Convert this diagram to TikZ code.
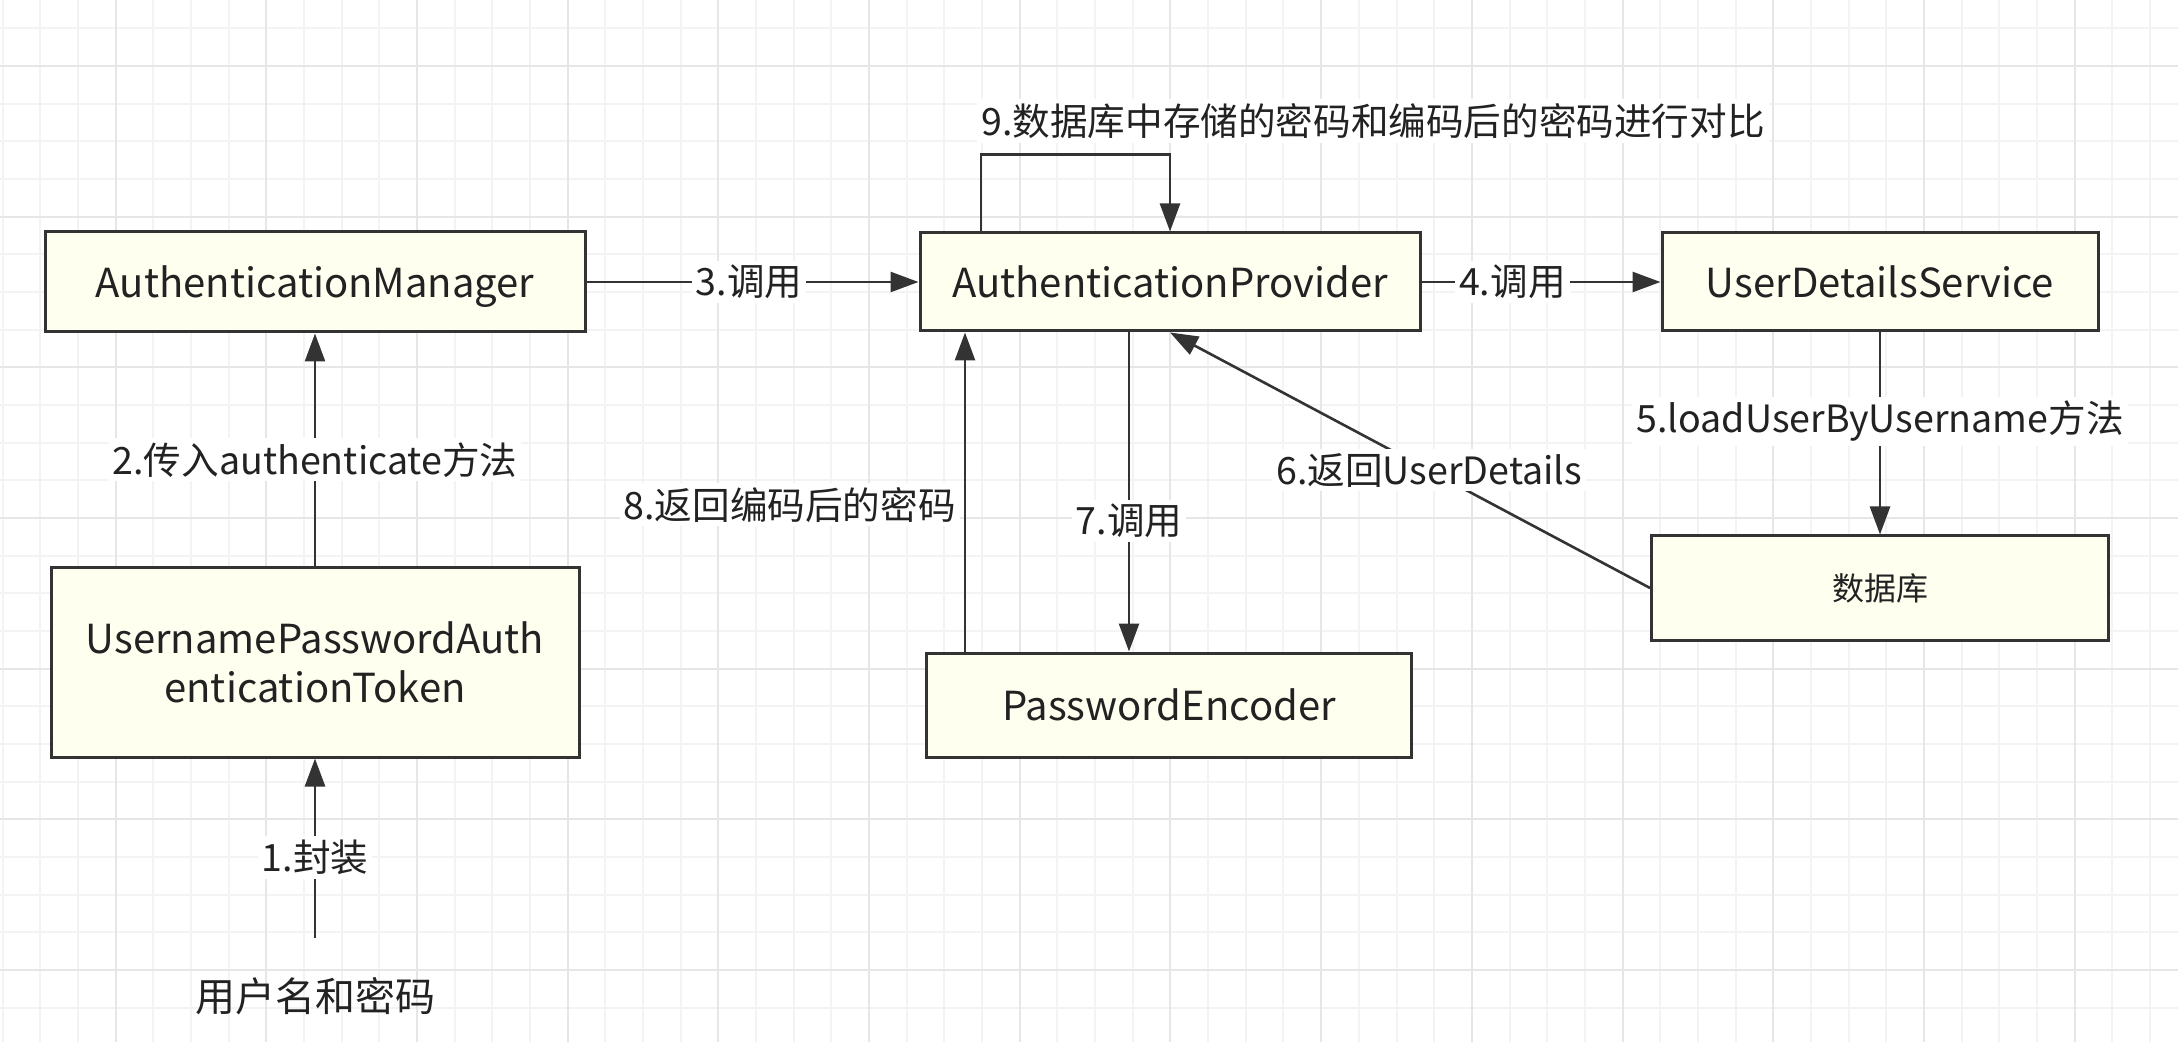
\documentclass[tikz,border=0pt]{standalone}
\usepackage{fontspec}
\setmainfont{Noto Sans CJK SC}
\usetikzlibrary{arrows.meta,calc}
\definecolor{boxfill}{HTML}{FFFFF0}
\definecolor{boxline}{HTML}{333333}
\definecolor{edgecol}{HTML}{333333}
\definecolor{txt}{HTML}{222222}
\definecolor{gridminor}{HTML}{F3F3F3}
\definecolor{gridmajor}{HTML}{E6E6E6}
\tikzset{
  box/.style={draw=boxline, fill=boxfill, line width=1.5pt, inner sep=0pt, align=center,
    text=txt, font=\fontsize{20}{24.5}\selectfont},
  onebox/.style={box, text depth=0pt},
  edge/.style={draw=edgecol, line width=1.3pt, -{Triangle[length=14pt,width=10pt]}},
  lab/.style={fill=white, inner sep=2pt, text=txt, font=\fontsize{18.8}{22}\selectfont},
  freetext/.style={inner sep=2pt, text=txt, font=\fontsize{20}{24}\selectfont},
}
\begin{document}
\begin{tikzpicture}[x=0.5pt,y=-0.5pt]
\fill[white] (0,0) rectangle (2178,1042);
\useasboundingbox (0,0) rectangle (2178,1042);
% grid
\foreach \i in {0,...,57} {
  \pgfmathsetmacro\gx{2.7+37.67*\i}
  \draw[gridminor, line width=1pt] (\gx,0) -- (\gx,1042);
}
\foreach \i in {0,...,27} {
  \pgfmathsetmacro\gy{28.3+37.67*\i}
  \draw[gridminor, line width=1pt] (0,\gy) -- (2178,\gy);
}
\foreach \i in {0,...,13} {
  \pgfmathsetmacro\gx{115.7+150.68*\i}
  \draw[gridmajor, line width=1pt] (\gx,0) -- (\gx,1042);
}
\foreach \i in {0,...,6} {
  \pgfmathsetmacro\gy{66+150.68*\i}
  \draw[gridmajor, line width=1pt] (0,\gy) -- (2178,\gy);
}
% nodes
\node[onebox, minimum width=270pt, minimum height=50pt] (am) at (315,282) {AuthenticationManager};
\node[box, minimum width=264pt, minimum height=95pt] (tok) at (315,662) {UsernamePasswordAuth\\enticationToken};
\node[onebox, minimum width=250pt, minimum height=49pt] (ap) at (1170,282) {AuthenticationProvider};
\node[onebox, minimum width=218pt, minimum height=49pt] (uds) at (1880,282) {UserDetailsService};
\node[box, minimum width=228.5pt, minimum height=52pt, font=\fontsize{16}{20}\selectfont] (db) at (1880,588) {数据库};
\node[onebox, minimum width=242.5pt, minimum height=52pt] (pe) at (1169,705) {PasswordEncoder};
\node[freetext] (user) at (315,996) {用户名和密码};
\coordinate (start1) at (315,938);
% edges
\draw[edge] (start1) -- node[lab, pos=0.45] {1.封装} (tok.south);
\draw[edge] (tok.north) -- node[lab, pos=0.455] {2.传入authenticate方法} (am.south);
\draw[edge] (am.east) -- node[lab, pos=0.49] {3.调用} (ap.west);
\draw[edge] (ap.east) -- node[lab, pos=0.38] {4.调用} (uds.west);
\draw[edge] (uds.south) -- node[lab, pos=0.44] {5.loadUserByUsername方法} (db.north);
\draw[edge] (db.west) -- node[lab, pos=0.46] {6.返回UserDetails} (ap.south);
\draw[edge] ([xshift=-20.5pt]ap.south) -- node[lab, pos=0.59] {7.调用} ([xshift=-20pt]pe.north);
\draw[edge] ([xshift=-102pt]pe.north) -- node[lab, pos=0.46, anchor=east, xshift=-2pt] {8.返回编码后的密码} ([xshift=-102.5pt]ap.south);
\draw[edge] ([xshift=-94.5pt]ap.north) -- ++(0,-77) -| (ap.north);
\node[lab] (l9) at (1373,121) {9.数据库中存储的密码和编码后的密码进行对比};
\end{tikzpicture}
\end{document}
